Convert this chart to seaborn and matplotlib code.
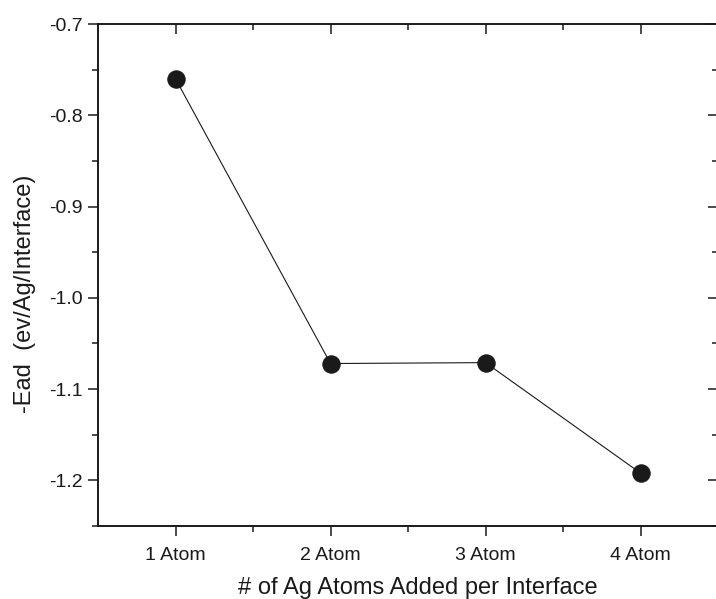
import matplotlib
matplotlib.use("Agg")
import matplotlib.pyplot as plt
import seaborn as sns
import pandas as pd
from matplotlib.ticker import MultipleLocator, FixedLocator

categories = ["1 Atom", "2 Atom", "3 Atom", "4 Atom"]
positions = [1, 2, 3, 4]
energies = [-0.760, -1.072, -1.071, -1.192]
yticks = [-1.2, -1.1, -1.0, -0.9, -0.8, -0.7]

sns.set_theme(style="ticks")
plt.rcParams['font.family'] = ['Liberation Sans', 'DejaVu Sans']
plt.rcParams['axes.unicode_minus'] = False

df = pd.DataFrame({"pos": positions, "E": energies})

fig = plt.figure(figsize=(7.16, 5.99), dpi=100)
ax = fig.add_axes([98/716, 1 - 526/599, (718 - 98)/716, (526 - 24)/599])

sns.lineplot(data=df, x="pos", y="E", ax=ax, color="#1a1a1a", linewidth=0.8,
             marker="o", markersize=12.5, markeredgecolor="#1a1a1a",
             markerfacecolor="#1a1a1a", zorder=3)

ax.set_xlim(0.5, 4.5)
ax.set_ylim(-1.25, -0.7)
ax.set_xticks(positions)
ax.set_xticklabels(categories)
ax.xaxis.set_minor_locator(FixedLocator([1.5, 2.5, 3.5]))
ax.set_yticks(yticks)
ax.set_yticklabels([f"{v:.1f}" for v in yticks])
ax.yaxis.set_minor_locator(MultipleLocator(0.05))

for s in ax.spines.values():
    s.set_visible(True)
    s.set_linewidth(1.4)
    s.set_color("#1a1a1a")

ax.tick_params(axis="both", which="major", length=7, width=1.1, color="#1a1a1a",
               labelsize=14, labelcolor="#1a1a1a", pad=4)
ax.tick_params(axis="both", which="minor", length=4, width=1.1, color="#1a1a1a")
ax.tick_params(axis="x", which="both", direction="out", top=True)
ax.tick_params(axis="y", which="both", direction="out", right=True)
ax.tick_params(axis="x", which="major", pad=8)

ax.set_xlabel("# of Ag Atoms Added per Interface", fontsize=17, color="#1a1a1a")
ax.set_ylabel("-Ead  (ev/Ag/Interface)", fontsize=17, color="#1a1a1a")
ax.xaxis.set_label_coords(0.516, -0.101)
ax.yaxis.set_label_coords(-0.1, 0.463)

# top and right ticks point inward (set last so nothing resets them)
for t in ax.xaxis.get_major_ticks() + ax.xaxis.get_minor_ticks():
    t.tick2line.set_marker(3)
for t in ax.yaxis.get_major_ticks() + ax.yaxis.get_minor_ticks():
    t.tick2line.set_marker(0)

fig.savefig("out.png", dpi=100)
